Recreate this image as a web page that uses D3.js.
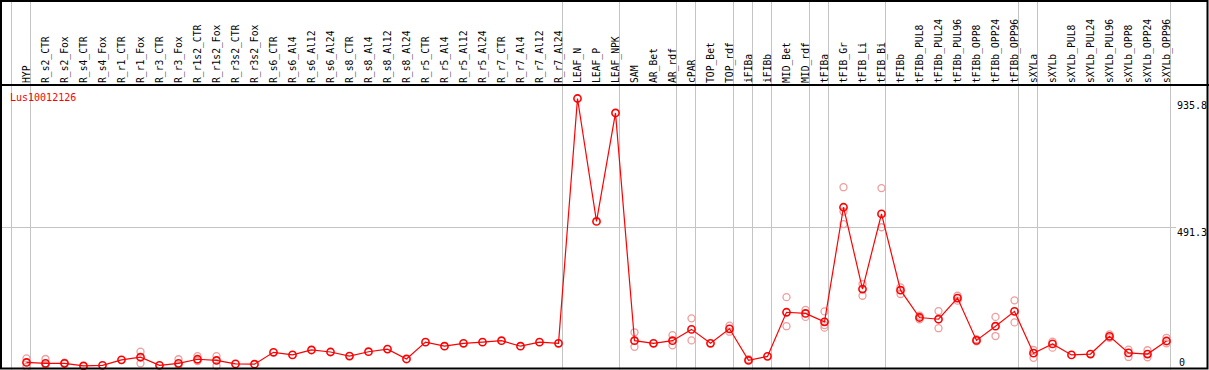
<!DOCTYPE html>
<html>
<head>
<meta charset="utf-8">
<script src="https://cdn.jsdelivr.net/npm/d3@7"></script>
<style>
	body { margin: 0; background: #fff; }
	svg text { font-family: 'DejaVu Sans Mono', monospace; font-size: 10px; }
	svg text.lab { font-size: 9.7px; }
</style>
</head>
<body>
<div id="chart"></div>
<script>
// sample names, left to right
const samples = [
	'HYP', 'R_s2_CTR', 'R_s2_Fox', 'R_s4_CTR', 'R_s4_Fox', 'R_r1_CTR', 'R_r1_Fox', 'R_r3_CTR', 'R_r3_Fox',
	'R_r1s2_CTR', 'R_r1s2_Fox', 'R_r3s2_CTR', 'R_r3s2_Fox', 'R_s6_CTR', 'R_s6_Al4', 'R_s6_Al12', 'R_s6_Al24',
	'R_s8_CTR', 'R_s8_Al4', 'R_s8_Al12', 'R_s8_Al24', 'R_r5_CTR', 'R_r5_Al4', 'R_r5_Al12', 'R_r5_Al24',
	'R_r7_CTR', 'R_r7_Al4', 'R_r7_Al12', 'R_r7_Al24', 'LEAF_N', 'LEAF_P', 'LEAF_NPK', 'SAM', 'AR_Bet', 'AR_rdf',
	'cPAR', 'TOP_Bet', 'TOP_rdf', 'iFIBa', 'iFIBb', 'MID_Bet', 'MID_rdf', 'tFIBa', 'tFIB_Gr', 'tFIB_Li', 'tFIB_Bi',
	'tFIBb', 'tFIBb_PUL8', 'tFIBb_PUL24', 'tFIBb_PUL96', 'tFIBb_OPP8', 'tFIBb_OPP24', 'tFIBb_OPP96',
	'sXYLa', 'sXYLb', 'sXYLb_PUL8', 'sXYLb_PUL24', 'sXYLb_PUL96', 'sXYLb_OPP8', 'sXYLb_OPP24', 'sXYLb_OPP96',
];

// how many samples sit in each tissue block (gray separators between them)
const groupSizes = [1, 28, 3, 3, 1, 2, 1, 1, 2, 1, 3, 7, 1, 7];

// mean expression
const meanValues = [
	26, 23, 23, 14, 16, 35, 44, 16, 23, 37, 33, 21, 20, 61, 52, 69, 62, 48, 63, 72, 38,
	96, 82, 92, 96, 101, 82, 96, 92, 935.8, 512, 886, 101, 92, 101, 140, 92, 142, 33, 47,
	199, 195, 166, 561, 279, 538, 275, 181, 175, 248, 102, 151, 202, 58, 90, 52, 55, 116, 59, 55, 100,
];

// replicates (null = not shown)
const rep1 = [
	40, 38, 25, null, null, null, 63, null, 37, 48, 48, null, null, null, null, null, null, null, null, null, null,
	null, null, null, null, null, null, null, null, null, null, null, 130, null, 120, 178, null, 153, 37, null,
	251, 207, 202, 630, 296, 627, 285, 187, 203, 256, 106, 183, 240, 69, 98, null, null, 123, 70, 68, 111,
];
const rep2 = [
	11, 17, 22, null, null, null, 23, null, 17, 31, 14, null, null, null, null, null, null, null, null, null, null,
	null, null, null, null, null, null, null, null, null, null, null, 80, null, 85, 102, null, 132, null, null,
	151, 183, 146, 503, 256, 492, 262, 175, 144, 239, 99, 117, 164, 42, 77, null, null, 111, 45, 44, 92,
];
const rep3 = [
	null, null, null, null, null, null, null, null, null, null, null, null, null, null, null, null, null, null, null, null, null,
	null, null, null, null, null, null, null, null, null, null, null, null, null, null, null, null, null, null, null,
	null, null, 155, 546, null, null, null, null, null, null, null, null, null, null, null, null, null, null, null, null, null,
];

const geneName = 'Lus10012126';
const refLine = 491.3;
const yMax = 935.8;

const width = 1209;
const height = 370;
const headerBottom = 85;

const svg = d3.select('#chart').append('svg')
	.attr('width', width)
	.attr('height', height);

svg.append('rect').attr('width', width).attr('height', height).attr('fill', '#fff');

const x = d3.scaleBand().domain(samples).range([11.5, 11.5 + 19 * samples.length]).padding(0);
const y = d3.scaleLinear().domain([0, yMax]).range([370, 98.5]);
const px = (d) => x(d) + 15;

// gray block separators
let bounds = [0];
groupSizes.forEach((n) => bounds.push(bounds[bounds.length - 1] + n));
svg.selectAll('line.sep')
	.data(bounds)
	.enter()
	.append('line')
	.attr('x1', (i) => (i < samples.length ? x(samples[i]) : x.range()[1]))
	.attr('x2', (i) => (i < samples.length ? x(samples[i]) : x.range()[1]))
	.attr('y1', 0)
	.attr('y2', height)
	.attr('stroke', '#c4c4c4');

// reference line
svg.append('line')
	.attr('x1', 1).attr('x2', 1176)
	.attr('y1', Math.round(y(refLine)) + 0.5).attr('y2', Math.round(y(refLine)) + 0.5)
	.attr('stroke', '#c4c4c4');

// sample labels
svg.selectAll('text.lab')
	.data(samples)
	.enter()
	.append('text')
	.attr('class', 'lab')
	.attr('transform', (d) => 'translate(' + (x(d) + 18) + ',83)rotate(-90)')
	.attr('fill', '#000')
	.text((d) => d);

// header separator
svg.append('line')
	.attr('x1', 0).attr('x2', width)
	.attr('y1', headerBottom).attr('y2', headerBottom)
	.attr('stroke', '#000').attr('stroke-width', 2);

// replicate points
[rep1, rep2, rep3].forEach((rep) => {
	svg.append('g')
		.selectAll('circle')
		.data(samples.map((s, i) => ({ s, v: rep[i] })).filter((d) => d.v != null))
		.enter()
		.append('circle')
		.attr('cx', (d) => px(d.s))
		.attr('cy', (d) => y(d.v))
		.attr('r', 3.5)
		.attr('fill', 'none')
		.attr('stroke', '#ee9c9c')
		.attr('stroke-width', 1.3);
});

// mean line
const line = d3.line().x((d) => px(d.s)).y((d) => y(d.v));
const means = samples.map((s, i) => ({ s, v: meanValues[i] }));
svg.append('path')
	.datum(means)
	.attr('d', line)
	.attr('fill', 'none')
	.attr('stroke', '#ff0000')
	.attr('stroke-width', 1.2);

svg.append('g')
	.selectAll('circle')
	.data(means)
	.enter()
	.append('circle')
	.attr('cx', (d) => px(d.s))
	.attr('cy', (d) => y(d.v))
	.attr('r', 3.6)
	.attr('fill', 'none')
	.attr('stroke', '#ff0000')
	.attr('stroke-width', 1.6);

// gene name
svg.append('text')
	.attr('x', 10).attr('y', 101)
	.attr('fill', '#ff0000')
	.text(geneName);

// value labels on the right
svg.append('text').attr('x', 1177).attr('y', y(yMax) + 3).attr('dominant-baseline', 'hanging').text(yMax);
svg.append('text').attr('x', 1177).attr('y', y(refLine) + 1).attr('dominant-baseline', 'hanging').text(refLine);
svg.append('text').attr('x', 1179).attr('y', 366).text(0);

// frame
svg.append('rect')
	.attr('x', 1).attr('y', 1)
	.attr('width', 1206.5).attr('height', 367.5)
	.attr('fill', 'none')
	.attr('stroke', '#000')
	.attr('stroke-width', 2);
</script>
</body>
</html>
